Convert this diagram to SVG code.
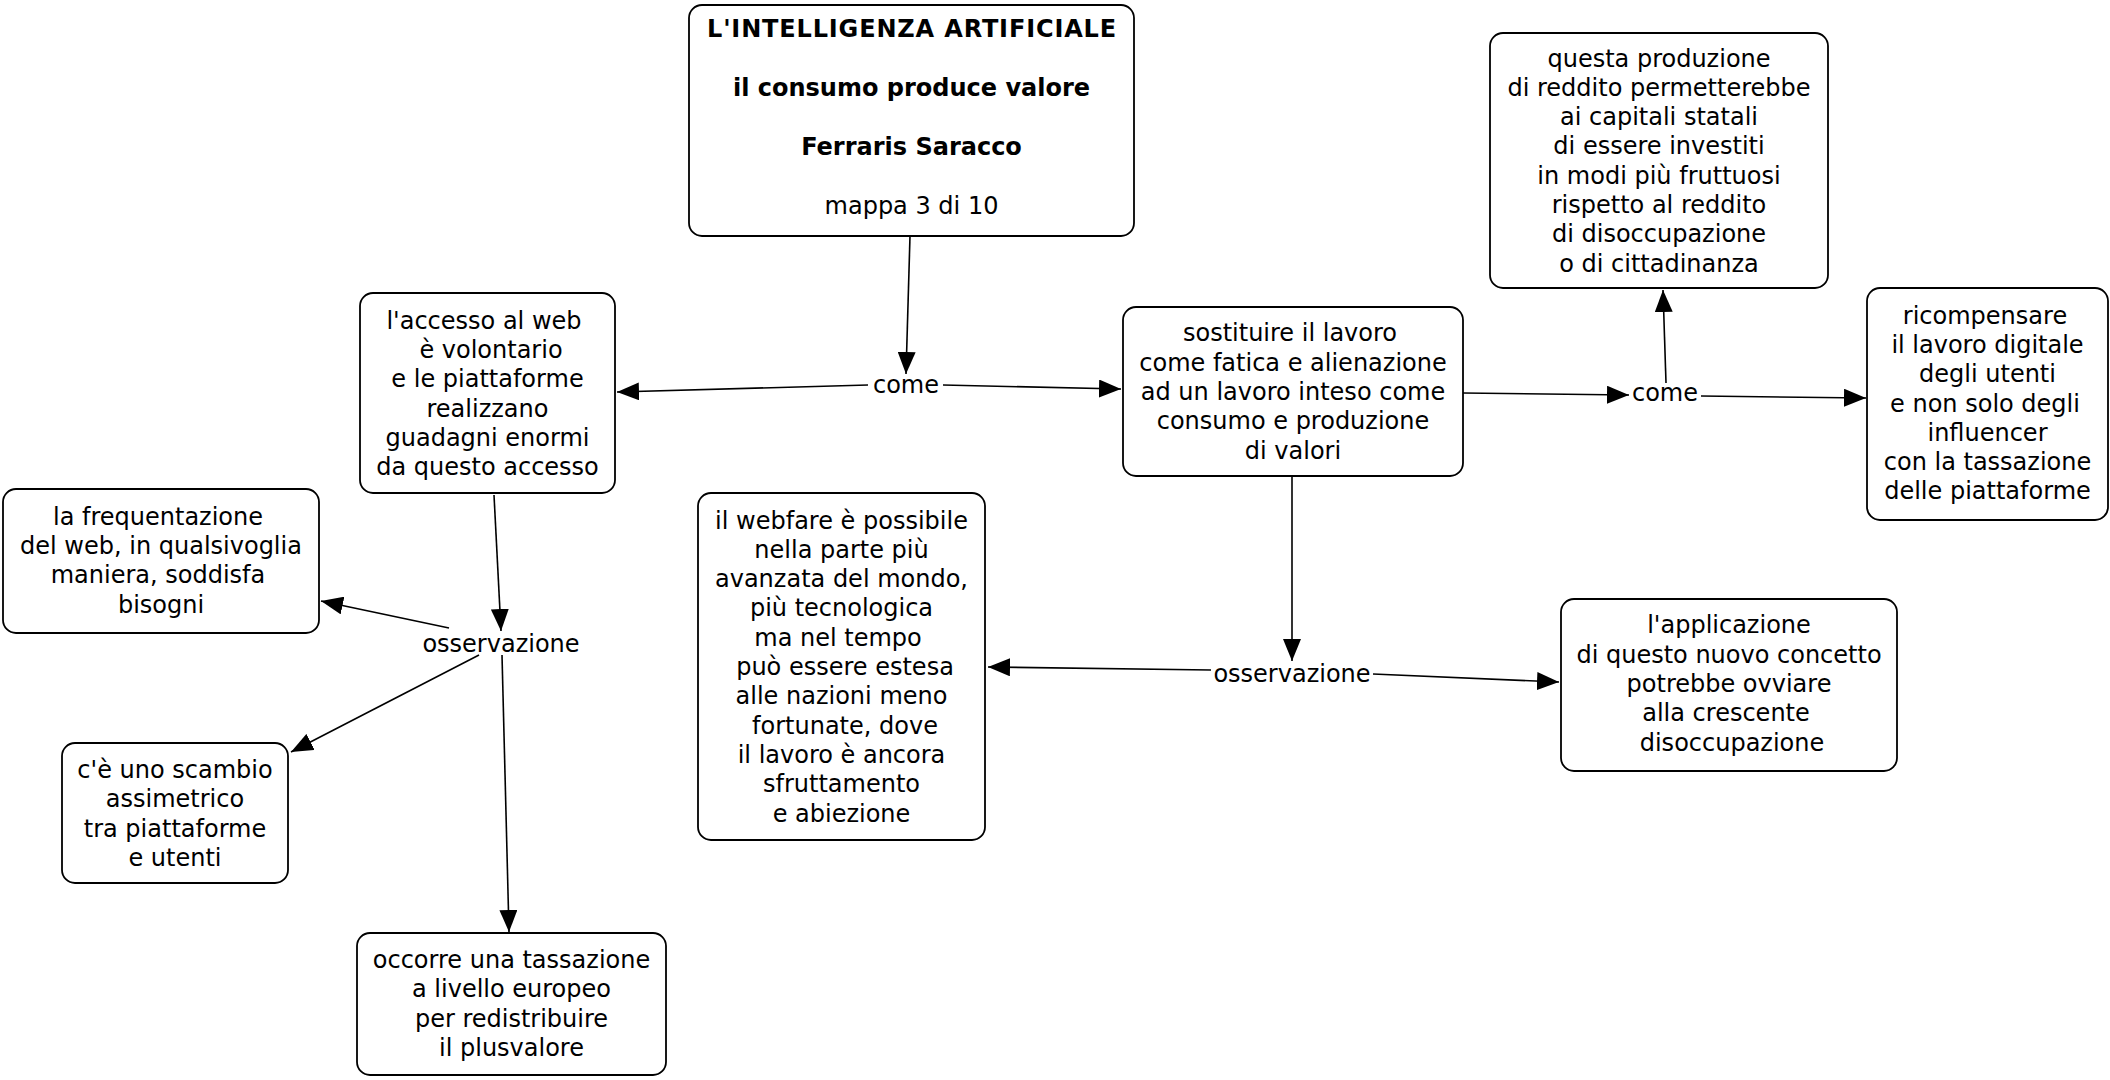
<svg xmlns="http://www.w3.org/2000/svg" width="2110" height="1080" viewBox="0 0 2110 1080">
<defs>
<style>
.box{fill:#fff;stroke:#000;stroke-width:1.8}
.t{font-family:"DejaVu Sans",Verdana,sans-serif;font-size:24px;fill:#000;text-anchor:middle}
.b{font-weight:bold}
.c{stroke:#000;stroke-width:1.6;fill:none;marker-end:url(#ah)}
</style>
<marker id="ah" markerUnits="userSpaceOnUse" markerWidth="22" markerHeight="18" refX="22" refY="9" orient="auto">
<path d="M0,0 L22,9 L0,18 z" fill="#000"/>
</marker>
</defs>
<rect width="2110" height="1080" fill="#fff"/>
<g id="connectors">
<line class="c" x1="910" y1="236" x2="906" y2="374"/>
<line class="c" x1="868" y1="385" x2="617" y2="392"/>
<line class="c" x1="943" y1="385" x2="1121" y2="389"/>
<line class="c" x1="1463" y1="393" x2="1629" y2="395"/>
<line class="c" x1="1666" y1="383" x2="1663" y2="290"/>
<line class="c" x1="1701" y1="396" x2="1866" y2="398"/>
<line class="c" x1="494" y1="495" x2="501" y2="631"/>
<line class="c" x1="449" y1="628" x2="321" y2="601"/>
<line class="c" x1="479" y1="655" x2="291" y2="752"/>
<line class="c" x1="502" y1="655" x2="509" y2="932"/>
<line class="c" x1="1292" y1="476" x2="1292" y2="661"/>
<line class="c" x1="1211" y1="670" x2="988" y2="667"/>
<line class="c" x1="1373" y1="674" x2="1559" y2="682"/>
</g>
<g id="labels">
<text class="t" x="906" y="393">come</text>
<text class="t" x="1665" y="401">come</text>
<text class="t" x="501" y="652">osservazione</text>
<text class="t" x="1292" y="682">osservazione</text>
</g>
<g id="title">
<rect class="box" x="689" y="5" width="445" height="231" rx="13"/>
<text class="t b" x="912" y="37" letter-spacing="0.85">L'INTELLIGENZA ARTIFICIALE</text>
<text class="t b" x="911.5" y="96">il consumo produce valore</text>
<text class="t b" x="911.5" y="155">Ferraris Saracco</text>
<text class="t" x="911.5" y="213.5">mappa 3 di 10</text>
</g>
<g id="questa">
<rect class="box" x="1490" y="33" width="338" height="255" rx="13"/>
<text class="t" x="1659"><tspan x="1659" y="66.5">questa produzione</tspan><tspan x="1659" y="95.8">di reddito permetterebbe</tspan><tspan x="1659" y="125.1">ai capitali statali</tspan><tspan x="1659" y="154.4">di essere investiti</tspan><tspan x="1659" y="183.7">in modi più fruttuosi</tspan><tspan x="1659" y="213">rispetto al reddito</tspan><tspan x="1659" y="242.3">di disoccupazione</tspan><tspan x="1659" y="271.6">o di cittadinanza</tspan></text>
</g>
<g id="ricompensare">
<rect class="box" x="1867" y="288" width="241" height="232" rx="13"/>
<text class="t" x="1987.5"><tspan x="1985" y="323.6">ricompensare</tspan><tspan x="1987.5" y="352.9">il lavoro digitale</tspan><tspan x="1987.5" y="382.2">degli utenti</tspan><tspan x="1985" y="411.5">e non solo degli</tspan><tspan x="1987.5" y="440.8">influencer</tspan><tspan x="1987.5" y="470.1">con la tassazione</tspan><tspan x="1987.5" y="499.4">delle piattaforme</tspan></text>
</g>
<g id="accesso">
<rect class="box" x="360" y="293" width="255" height="200" rx="13"/>
<text class="t" x="487.5"><tspan x="484" y="328.8">l'accesso al web</tspan><tspan x="491" y="358.1">è volontario</tspan><tspan x="487.5" y="387.4">e le piattaforme</tspan><tspan x="487.5" y="416.7">realizzano</tspan><tspan x="487.5" y="446">guadagni enormi</tspan><tspan x="487.5" y="475.3">da questo accesso</tspan></text>
</g>
<g id="sostituire">
<rect class="box" x="1123" y="307" width="340" height="169" rx="13"/>
<text class="t" x="1293"><tspan x="1290" y="341.4">sostituire il lavoro</tspan><tspan x="1293" y="370.7">come fatica e alienazione</tspan><tspan x="1293" y="400">ad un lavoro inteso come</tspan><tspan x="1293" y="429.3">consumo e produzione</tspan><tspan x="1293" y="458.6">di valori</tspan></text>
</g>
<g id="frequentazione">
<rect class="box" x="3" y="489" width="316" height="144" rx="13"/>
<text class="t" x="161"><tspan x="158" y="524.6">la frequentazione</tspan><tspan x="161" y="553.9">del web, in qualsivoglia</tspan><tspan x="158" y="583.2">maniera, soddisfa</tspan><tspan x="161" y="612.5">bisogni</tspan></text>
</g>
<g id="webfare">
<rect class="box" x="698" y="493" width="287" height="347" rx="13"/>
<text class="t" x="841.5"><tspan x="841.5" y="528.5">il webfare è possibile</tspan><tspan x="841.5" y="557.8">nella parte più</tspan><tspan x="841.5" y="587.1">avanzata del mondo,</tspan><tspan x="841.5" y="616.4">più tecnologica</tspan><tspan x="838" y="645.7">ma nel tempo</tspan><tspan x="845" y="675">può essere estesa</tspan><tspan x="841.5" y="704.3">alle nazioni meno</tspan><tspan x="845" y="733.6">fortunate, dove</tspan><tspan x="841.5" y="762.9">il lavoro è ancora</tspan><tspan x="841.5" y="792.2">sfruttamento</tspan><tspan x="841.5" y="821.5">e abiezione</tspan></text>
</g>
<g id="applicazione">
<rect class="box" x="1561" y="599" width="336" height="172" rx="13"/>
<text class="t" x="1729"><tspan x="1729" y="633.4">l'applicazione</tspan><tspan x="1729" y="662.7">di questo nuovo concetto</tspan><tspan x="1729" y="692">potrebbe ovviare</tspan><tspan x="1726" y="721.3">alla crescente</tspan><tspan x="1732" y="750.6">disoccupazione</tspan></text>
</g>
<g id="scambio">
<rect class="box" x="62" y="743" width="226" height="140" rx="13"/>
<text class="t" x="175"><tspan x="175" y="778">c'è uno scambio</tspan><tspan x="175" y="807.3">assimetrico</tspan><tspan x="175" y="836.6">tra piattaforme</tspan><tspan x="175" y="865.9">e utenti</tspan></text>
</g>
<g id="occorre">
<rect class="box" x="357" y="933" width="309" height="142" rx="13"/>
<text class="t" x="511.5"><tspan x="511.5" y="968">occorre una tassazione</tspan><tspan x="511.5" y="997.3">a livello europeo</tspan><tspan x="511.5" y="1026.6">per redistribuire</tspan><tspan x="511.5" y="1055.9">il plusvalore</tspan></text>
</g>
</svg>
